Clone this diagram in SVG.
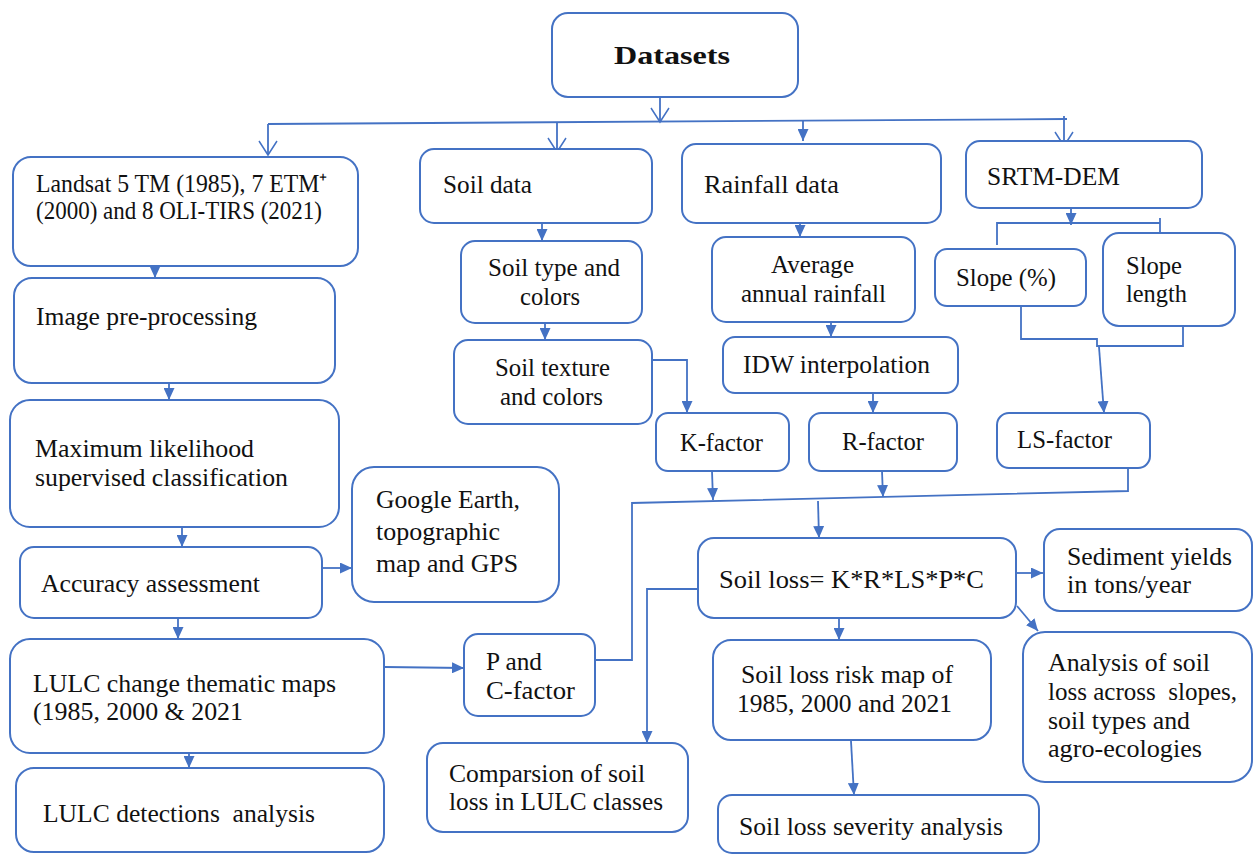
<svg xmlns="http://www.w3.org/2000/svg" width="1254" height="854" viewBox="0 0 1254 854">
<defs>
<style>
.b{fill:#fff;stroke:#4472C4;stroke-width:2}
.t{font-size:25px;fill:#111}
.c{fill:none;stroke:#4472C4;stroke-width:1.8}
</style>
<marker id="fa" markerUnits="userSpaceOnUse" markerWidth="12" markerHeight="11" refX="12" refY="5.5" orient="auto" viewBox="0 0 12 11">
<path d="M0,0 L12,5.5 L0,11 z" fill="#4472C4"/>
</marker>
<marker id="oa" markerUnits="userSpaceOnUse" markerWidth="16" markerHeight="22" refX="14" refY="10" orient="auto" viewBox="0 0 16 20" overflow="visible">
<path d="M0,1 L14,10 L0,19" fill="none" stroke="#4472C4" stroke-width="1.5"/>
</marker>
</defs>
<rect width="1254" height="854" fill="#fff"/>

<g id="connectors">
<path class="c" d="M660,97 V122" marker-end="url(#oa)"/>
<path class="c" d="M268,124 L1067,119"/>
<path class="c" d="M268,124 V155" marker-end="url(#oa)"/>
<path class="c" d="M557,123 V152" marker-end="url(#oa)"/>
<path class="c" d="M803,121 V141" marker-end="url(#fa)"/>
<path class="c" d="M1064,116 V146" marker-end="url(#oa)"/>
<path class="c" d="M155,266 V278" marker-end="url(#fa)"/>
<path class="c" d="M169,383 V400" marker-end="url(#fa)"/>
<path class="c" d="M182,527 V547" marker-end="url(#fa)"/>
<path class="c" d="M178,618 V639" marker-end="url(#fa)"/>
<path class="c" d="M189,753 V768" marker-end="url(#fa)"/>
<path class="c" d="M322,568 H352" marker-end="url(#fa)"/>
<path class="c" d="M385,667 L464,668" marker-end="url(#fa)"/>
<path class="c" d="M595,660 H632 V503 L1128,491 V468"/>
<path class="c" d="M712,471 L713,500" marker-end="url(#fa)"/>
<path class="c" d="M882,471 L883,497" marker-end="url(#fa)"/>
<path class="c" d="M818,501 L819,538" marker-end="url(#fa)"/>
<path class="c" d="M542,223 V241" marker-end="url(#fa)"/>
<path class="c" d="M545,323 V340" marker-end="url(#fa)"/>
<path class="c" d="M652,360 H687 V413" marker-end="url(#fa)"/>
<path class="c" d="M800,223 V237" marker-end="url(#fa)"/>
<path class="c" d="M831,322 V337" marker-end="url(#fa)"/>
<path class="c" d="M873,393 V413" marker-end="url(#fa)"/>
<path class="c" d="M1071,208 V225" marker-end="url(#fa)"/>
<path class="c" d="M997,245 V223 H1160"/>
<path class="c" d="M1160,218 V241"/>
<path class="c" d="M1021,303 V339 H1097 V346 H1183 V320"/>
<path class="c" d="M1099,347 L1104,413" marker-end="url(#fa)"/>
<path class="c" d="M698,589 H647 V743" marker-end="url(#fa)"/>
<path class="c" d="M1017,573 H1043" marker-end="url(#fa)"/>
<path class="c" d="M1017,606 L1038,631" marker-end="url(#fa)"/>
<path class="c" d="M839,618 V640" marker-end="url(#fa)"/>
<path class="c" d="M851,741 L854,795" marker-end="url(#fa)"/>
</g>

<g id="nodes" font-family="Liberation Serif, Times New Roman, serif">
<g id="datasets">
<rect class="b" x="552" y="13" width="246" height="84" rx="16"/>
<text class="t" x="614" y="64" font-weight="bold" font-size="29" textLength="116" lengthAdjust="spacingAndGlyphs">Datasets</text>
</g>
<g id="landsat">
<rect class="b" x="13" y="157" width="345" height="109" rx="18"/>
<text class="t" x="36" y="192" font-size="23" textLength="291" lengthAdjust="spacingAndGlyphs">Landsat 5 TM (1985), 7 ETM⁺</text>
<text class="t" x="36" y="219" font-size="23" textLength="286" lengthAdjust="spacingAndGlyphs">(2000) and 8 OLI-TIRS (2021)</text>
</g>
<g id="soil-data">
<rect class="b" x="420" y="149" width="232" height="74" rx="14"/>
<text class="t" x="443" y="193" textLength="89" lengthAdjust="spacingAndGlyphs">Soil data</text>
</g>
<g id="rainfall-data">
<rect class="b" x="682" y="144" width="259" height="79" rx="14"/>
<text class="t" x="704" y="193" textLength="135" lengthAdjust="spacingAndGlyphs">Rainfall data</text>
</g>
<g id="srtm-dem">
<rect class="b" x="966" y="141" width="236" height="67" rx="14"/>
<text class="t" x="987" y="185" textLength="133" lengthAdjust="spacingAndGlyphs">SRTM-DEM</text>
</g>
<g id="soil-type">
<rect class="b" x="461" y="241" width="181" height="82" rx="14"/>
<text class="t" x="488" y="276" textLength="132" lengthAdjust="spacingAndGlyphs">Soil type and</text>
<text class="t" x="520" y="305" textLength="60" lengthAdjust="spacingAndGlyphs">colors</text>
</g>
<g id="soil-texture">
<rect class="b" x="454" y="340" width="198" height="84" rx="14"/>
<text class="t" x="495" y="376" textLength="115" lengthAdjust="spacingAndGlyphs">Soil texture</text>
<text class="t" x="500" y="405" textLength="103" lengthAdjust="spacingAndGlyphs">and colors</text>
</g>
<g id="average-rainfall">
<rect class="b" x="712" y="237" width="203" height="85" rx="14"/>
<text class="t" x="771" y="273" textLength="83" lengthAdjust="spacingAndGlyphs">Average</text>
<text class="t" x="741" y="302" textLength="145" lengthAdjust="spacingAndGlyphs">annual rainfall</text>
</g>
<g id="idw">
<rect class="b" x="723" y="337" width="235" height="56" rx="12"/>
<text class="t" x="743" y="373" textLength="187" lengthAdjust="spacingAndGlyphs">IDW interpolation</text>
</g>
<g id="slope-pct">
<rect class="b" x="935" y="249" width="151" height="57" rx="12"/>
<text class="t" x="956" y="286" textLength="100" lengthAdjust="spacingAndGlyphs">Slope (%)</text>
</g>
<g id="slope-length">
<rect class="b" x="1103" y="233" width="132" height="93" rx="16"/>
<text class="t" x="1126" y="274" textLength="56" lengthAdjust="spacingAndGlyphs">Slope</text>
<text class="t" x="1126" y="302" textLength="61" lengthAdjust="spacingAndGlyphs">length</text>
</g>
<g id="k-factor">
<rect class="b" x="656" y="413" width="133" height="58" rx="12"/>
<text class="t" x="680" y="451" textLength="83" lengthAdjust="spacingAndGlyphs">K-factor</text>
</g>
<g id="r-factor">
<rect class="b" x="809" y="413" width="148" height="58" rx="12"/>
<text class="t" x="842" y="450" textLength="82" lengthAdjust="spacingAndGlyphs">R-factor</text>
</g>
<g id="ls-factor">
<rect class="b" x="997" y="413" width="153" height="55" rx="12"/>
<text class="t" x="1017" y="448" textLength="95" lengthAdjust="spacingAndGlyphs">LS-factor</text>
</g>
<g id="image-preprocessing">
<rect class="b" x="14" y="278" width="321" height="105" rx="18"/>
<text class="t" x="36" y="325" textLength="221" lengthAdjust="spacingAndGlyphs">Image pre-processing</text>
</g>
<g id="max-likelihood">
<rect class="b" x="10" y="400" width="329" height="127" rx="20"/>
<text class="t" x="35" y="457" textLength="219" lengthAdjust="spacingAndGlyphs">Maximum likelihood</text>
<text class="t" x="35" y="486" textLength="253" lengthAdjust="spacingAndGlyphs">supervised classification</text>
</g>
<g id="google-earth">
<rect class="b" x="352" y="467" width="207" height="135" rx="22"/>
<text class="t" x="376" y="508" textLength="144" lengthAdjust="spacingAndGlyphs">Google Earth,</text>
<text class="t" x="376" y="540" textLength="124" lengthAdjust="spacingAndGlyphs">topographic</text>
<text class="t" x="376" y="572" textLength="142" lengthAdjust="spacingAndGlyphs">map and GPS</text>
</g>
<g id="accuracy">
<rect class="b" x="20" y="547" width="302" height="71" rx="14"/>
<text class="t" x="41" y="592" textLength="219" lengthAdjust="spacingAndGlyphs">Accuracy assessment</text>
</g>
<g id="lulc-change">
<rect class="b" x="10" y="639" width="374" height="114" rx="20"/>
<text class="t" x="33" y="692" textLength="303" lengthAdjust="spacingAndGlyphs">LULC change thematic maps</text>
<text class="t" x="33" y="720" textLength="210" lengthAdjust="spacingAndGlyphs">(1985, 2000 &amp; 2021</text>
</g>
<g id="lulc-detections">
<rect class="b" x="16" y="768" width="368" height="84" rx="18"/>
<text class="t" x="43" y="822" textLength="272" lengthAdjust="spacingAndGlyphs" xml:space="preserve">LULC detections  analysis</text>
</g>
<g id="p-c-factor">
<rect class="b" x="464" y="634" width="131" height="82" rx="14"/>
<text class="t" x="486" y="670" textLength="56" lengthAdjust="spacingAndGlyphs">P and</text>
<text class="t" x="486" y="699" textLength="89" lengthAdjust="spacingAndGlyphs">C-factor</text>
</g>
<g id="soil-loss">
<rect class="b" x="698" y="538" width="318" height="80" rx="16"/>
<text class="t" x="719" y="588" textLength="265" lengthAdjust="spacingAndGlyphs">Soil loss= K*R*LS*P*C</text>
</g>
<g id="sediment">
<rect class="b" x="1044" y="529" width="208" height="82" rx="16"/>
<text class="t" x="1067" y="565" textLength="165" lengthAdjust="spacingAndGlyphs">Sediment yields</text>
<text class="t" x="1067" y="593" textLength="124" lengthAdjust="spacingAndGlyphs">in tons/year</text>
</g>
<g id="analysis">
<rect class="b" x="1023" y="632" width="229" height="150" rx="22"/>
<text class="t" x="1048" y="671" textLength="162" lengthAdjust="spacingAndGlyphs">Analysis of soil</text>
<text class="t" x="1048" y="700" textLength="189" lengthAdjust="spacingAndGlyphs" xml:space="preserve">loss across  slopes,</text>
<text class="t" x="1048" y="729" textLength="142" lengthAdjust="spacingAndGlyphs">soil types and</text>
<text class="t" x="1048" y="757" textLength="154" lengthAdjust="spacingAndGlyphs">agro-ecologies</text>
</g>
<g id="risk-map">
<rect class="b" x="713" y="640" width="278" height="100" rx="18"/>
<text class="t" x="741" y="683" textLength="212" lengthAdjust="spacingAndGlyphs">Soil loss risk map of</text>
<text class="t" x="737" y="712" textLength="215" lengthAdjust="spacingAndGlyphs">1985, 2000 and 2021</text>
</g>
<g id="comparison">
<rect class="b" x="427" y="743" width="261" height="89" rx="16"/>
<text class="t" x="449" y="782" textLength="196" lengthAdjust="spacingAndGlyphs">Comparsion of soil</text>
<text class="t" x="449" y="810" textLength="214" lengthAdjust="spacingAndGlyphs">loss in LULC classes</text>
</g>
<g id="severity">
<rect class="b" x="718" y="795" width="321" height="58" rx="14"/>
<text class="t" x="739" y="835" textLength="264" lengthAdjust="spacingAndGlyphs">Soil loss severity analysis</text>
</g>
</g>
</svg>
